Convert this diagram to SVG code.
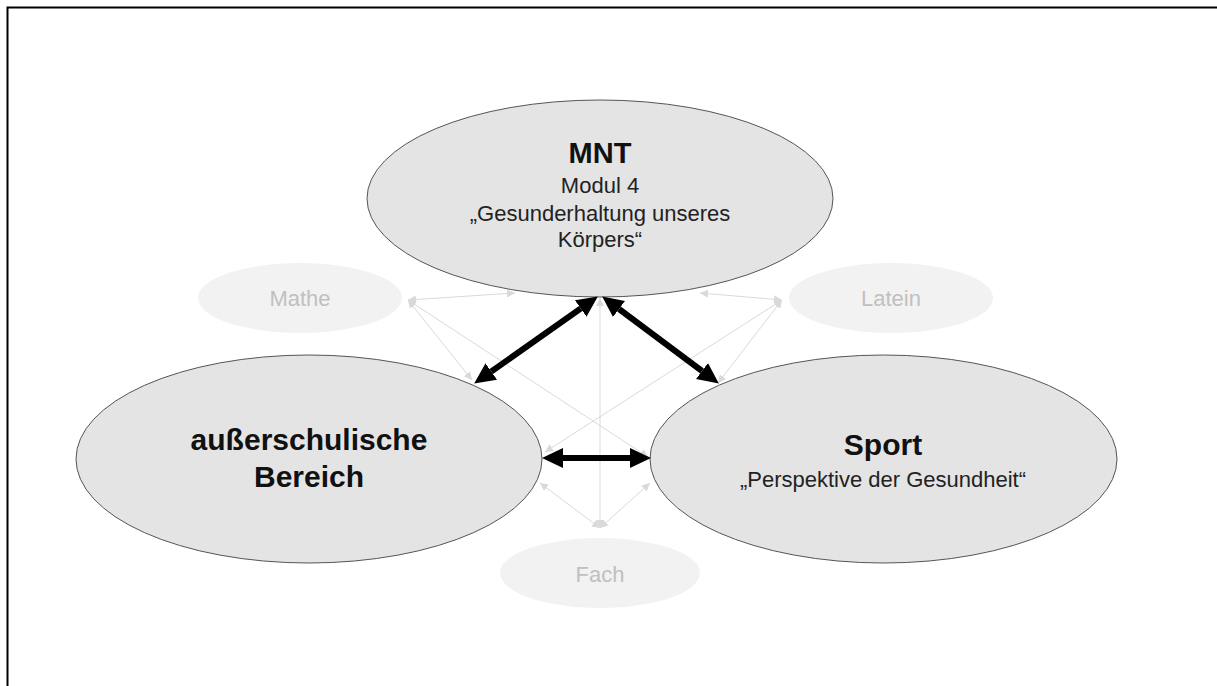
<svg xmlns="http://www.w3.org/2000/svg" width="1217" height="686" viewBox="0 0 1217 686">
<style>
.main{fill:#e4e4e4;stroke:#555;stroke-width:1}
.sat{fill:#f2f2f2;stroke:none}
.t{font-family:"Liberation Sans",Arial,sans-serif;text-anchor:middle}
.b{font-weight:bold;fill:#111}
.r{fill:#222;font-size:22px}
.st{fill:#c0c0c0;font-size:22px}
.light{stroke:#d9d9d9;stroke-width:1;fill:none;marker-start:url(#la);marker-end:url(#la)}
.heavy{stroke:#000;stroke-width:6;fill:none;marker-start:url(#ha);marker-end:url(#ha)}
</style>
<defs>
<marker id="ha" markerUnits="userSpaceOnUse" markerWidth="22" markerHeight="22" refX="0" refY="10" orient="auto-start-reverse" viewBox="0 0 22 20"><path d="M0,0 L21,10 L0,20 z" fill="#000"/></marker>
<marker id="la" markerUnits="userSpaceOnUse" markerWidth="8" markerHeight="8" refX="8" refY="4" orient="auto-start-reverse" viewBox="0 0 8 8"><path d="M0,0 L8,4 L0,8 z" fill="#d9d9d9"/></marker>
</defs>
<rect width="1217" height="686" fill="#fff"/>
<path d="M7.5,686 V7.5 H1217" fill="none" stroke="#000" stroke-width="2"/>

<g id="mathe"><ellipse class="sat" cx="300" cy="298" rx="102" ry="35"/><text class="t st" x="300" y="306">Mathe</text></g>
<g id="latein"><ellipse class="sat" cx="891" cy="298" rx="102" ry="35"/><text class="t st" x="891" y="306">Latein</text></g>
<g id="fach"><ellipse class="sat" cx="600" cy="573" rx="100" ry="35"/><text class="t st" x="600" y="582">Fach</text></g>

<g id="connectors-light">
<line class="light" x1="408" y1="300" x2="515" y2="293"/>
<line class="light" x1="408" y1="300" x2="472" y2="380"/>
<line class="light" x1="408" y1="300" x2="648" y2="457"/>
<line class="light" x1="782" y1="300" x2="700" y2="293"/>
<line class="light" x1="782" y1="300" x2="718" y2="383"/>
<line class="light" x1="782" y1="300" x2="545" y2="452"/>
<line class="light" x1="600" y1="528" x2="600" y2="298"/>
<line class="light" x1="600" y1="528" x2="540" y2="483"/>
<line class="light" x1="600" y1="528" x2="650" y2="483"/>
</g>

<g id="mnt"><ellipse class="main" cx="600" cy="198.5" rx="233" ry="98.5"/>
<text class="t b" x="600" y="163" font-size="29">MNT</text>
<text class="t r" x="600" y="193">Modul 4</text>
<text class="t r" x="600" y="221">„Gesunderhaltung unseres</text>
<text class="t r" x="600" y="247">Körpers“</text></g>

<g id="ausserschulisch"><ellipse class="main" cx="309" cy="459" rx="233" ry="104"/>
<text class="t b" x="309" y="450" font-size="30">außerschulische</text>
<text class="t b" x="309" y="487" font-size="30">Bereich</text></g>

<g id="sport"><ellipse class="main" cx="883.5" cy="459" rx="233.5" ry="104"/>
<text class="t b" x="883" y="455" font-size="30">Sport</text>
<text class="t r" x="883" y="487">„Perspektive der Gesundheit“</text></g>

<g id="connectors">
<line class="heavy" x1="580.7" y1="308.5" x2="491.3" y2="371.5"/>
<line class="heavy" x1="619" y1="309" x2="702" y2="371"/>
<line class="heavy" x1="563" y1="458" x2="630" y2="458"/>
</g>
</svg>
